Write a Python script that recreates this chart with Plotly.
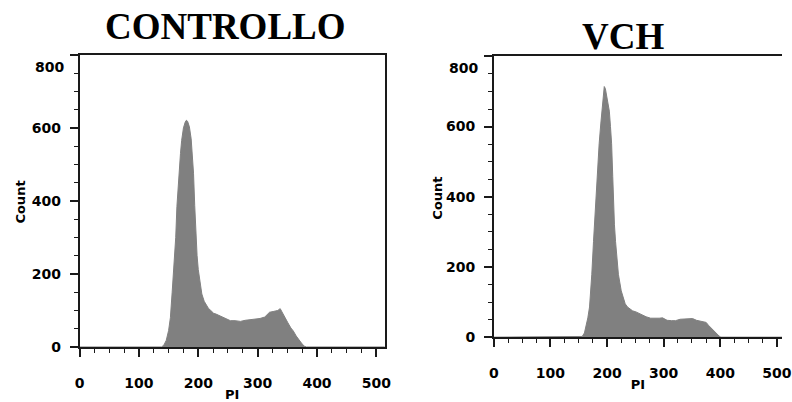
import plotly.graph_objects as go

# PI histogram, control sample (channel, count)
ctrl_pi = [0, 138, 142, 146, 150, 153, 156, 159, 162, 164, 167, 170, 172, 175, 178, 180,
           182, 185, 188, 190, 192, 194, 196, 198, 200, 203, 206, 210, 213, 217, 221, 226,
           230, 238, 246, 254, 262, 271, 279, 288, 296, 304, 312, 316, 320, 326, 334, 338,
           342, 346, 351, 356, 360, 365, 370, 375, 379, 382, 515]
ctrl_count = [0, 0, 5, 18, 45, 80, 150, 215, 300, 385, 470, 530, 566, 600, 616, 621,
              618, 603, 570, 530, 476, 387, 300, 250, 212, 175, 145, 125, 116, 106, 100, 92,
              90, 84, 80, 72, 72, 70, 73, 75, 77, 78, 82, 90, 95, 97, 100, 105,
              92, 80, 66, 52, 44, 30, 18, 8, 2, 0, 0]

# PI histogram, VCH-treated sample (channel, count)
vch_pi = [0, 153, 156, 160, 163, 166, 169, 171, 173, 176, 179, 182, 186, 189, 191, 193,
          195, 197, 199, 202, 204, 206, 208, 210, 211.5, 213, 215, 217, 220, 225, 229, 232,
          236, 240, 245, 251, 257, 263, 269, 277, 286, 292, 298, 306, 314, 321, 329, 341,
          351, 358, 365, 370, 375, 379, 383, 387, 391, 395, 398, 401, 515]
vch_count = [0, 0, 2, 12, 30, 55, 86, 130, 179, 272, 365, 458, 551, 610, 644, 690,
             714, 708, 691, 670, 644, 600, 551, 458, 365, 320, 272, 225, 179, 132, 108, 95,
             86, 81, 75, 72, 67, 62, 58, 54, 53, 54, 55, 48, 47, 47, 51, 51,
             53, 48, 46, 44, 42, 34, 27, 20, 13, 8, 3, 0, 0]

panel_titles = ["CONTROLLO", "VCH"]
x_ticks = [0, 100, 200, 300, 400, 500]
y_ticks = [0, 200, 400, 600, 800]

W, H = 792, 402
FILL = "#808080"
INK = "#1a1a1a"
tick_font = dict(family="DejaVu Sans", size=14, color="black", weight=700)
label_font = dict(family="DejaVu Sans", size=13, color="black", weight=700)
title_font = dict(family="Liberation Serif", size=37, color="black", weight=700)

fig = go.Figure()
fig.add_trace(go.Scatter(x=ctrl_pi, y=ctrl_count, mode="lines", fill="tozeroy",
                         line=dict(color=FILL, width=1), fillcolor=FILL,
                         xaxis="x", yaxis="y", hoverinfo="skip"))
fig.add_trace(go.Scatter(x=vch_pi, y=vch_count, mode="lines", fill="tozeroy",
                         line=dict(color=FILL, width=1), fillcolor=FILL,
                         xaxis="x2", yaxis="y2", hoverinfo="skip"))


def px_dom(a, b, total):
    return [a / total, b / total]


def xaxis(dom, rng, mirror):
    return dict(domain=dom, range=rng, tickvals=x_ticks, ticks="outside", ticklen=8,
                tickwidth=1.5, tickcolor=INK, showline=True, linecolor=INK, linewidth=1.5,
                mirror=mirror, showgrid=False, zeroline=False, tickfont=tick_font,
                ticklabelstandoff=14, ticklabeloverflow="allow",
                minor=dict(dtick=25, ticks="outside", ticklen=4, tickwidth=1.2, tickcolor=INK),
                title=dict(text="PI", font=label_font, standoff=0))


def yaxis(dom, anchor, mirror):
    return dict(domain=dom, range=[0, 800], anchor=anchor, tickvals=y_ticks,
                ticktext=["0", "200", "400", "600", ""],
                ticks="outside", ticklen=8, tickwidth=1.5, tickcolor=INK, showline=True,
                linecolor=INK, linewidth=1.5, mirror=mirror, showgrid=False, zeroline=False,
                tickfont=tick_font, ticklabelstandoff=6,
                minor=dict(dtick=50, ticks="outside", ticklen=4, tickwidth=1.2, tickcolor=INK))


fig.update_layout(
    width=W, height=H, margin=dict(l=0, r=0, t=0, b=0),
    paper_bgcolor="white", plot_bgcolor="white", showlegend=False,
    xaxis=xaxis(px_dom(76, 387, W), [0, 514], True) | dict(anchor="y"),
    yaxis=yaxis([(H - 354) / H, (H - 56) / H], "x", True),
    xaxis2=xaxis(px_dom(498.3, 792, W), [0, 509], True) | dict(anchor="y2"),
    yaxis2=yaxis([(H - 344) / H, (H - 57.5) / H], "x2", False),
)

# top tick label sits just inside the frame
for ya, xa in (("y", "x"), ("y2", "x2")):
    fig.add_annotation(x=0, y=800, xref=xa, yref=ya, text="800",
                       showarrow=False, xanchor="right", yanchor="middle",
                       xshift=-14, yshift=-12, font=tick_font)

# vertical "Count" labels
for cx, cy in ((16, 206), (441, 202)):
    fig.add_annotation(x=cx / W, y=1 - cy / H, xref="paper", yref="paper", text="Count",
                       showarrow=False, textangle=-90, font=label_font,
                       xanchor="center", yanchor="middle")

# panel titles
fig.add_annotation(x=225 / W, y=1 - 27.5 / H, xref="paper", yref="paper",
                   text=panel_titles[0], showarrow=False, font=title_font,
                   xanchor="center", yanchor="middle")
fig.add_annotation(x=630 / W, y=1 - 37.5 / H, xref="paper", yref="paper",
                   text=panel_titles[1], showarrow=False, font=title_font,
                   xanchor="center", yanchor="middle")

fig.write_html("out.html")
